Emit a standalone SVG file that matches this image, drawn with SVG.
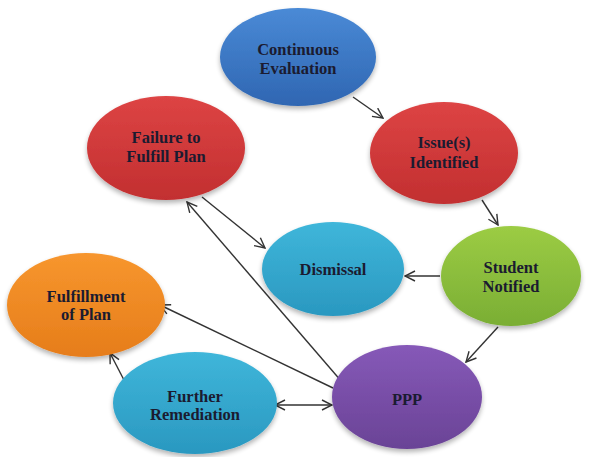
<svg xmlns="http://www.w3.org/2000/svg" width="597" height="457" viewBox="0 0 597 457">
<style>
text{font-family:'Liberation Serif','DejaVu Serif',serif;font-weight:bold;font-size:16.5px;fill:#1b1b30;text-anchor:middle}
.con{stroke:#333;stroke-width:1.4;fill:none}
</style>
<defs>
<marker id="arr" viewBox="0 0 12 12" refX="11" refY="6" markerWidth="12" markerHeight="12" markerUnits="userSpaceOnUse" orient="auto-start-reverse">
<path d="M1,1 L11,6 L1,11" fill="none" stroke="#333" stroke-width="1.4"/>
</marker>
<linearGradient id="gBlue" x1="0" y1="0" x2="0" y2="1"><stop offset="0" stop-color="#4a8ad6"/><stop offset="1" stop-color="#2f66b2"/></linearGradient>
<linearGradient id="gRed" x1="0" y1="0" x2="0" y2="1"><stop offset="0" stop-color="#dd4444"/><stop offset="1" stop-color="#c22f30"/></linearGradient>
<linearGradient id="gCyan" x1="0" y1="0" x2="0" y2="1"><stop offset="0" stop-color="#3fb6da"/><stop offset="1" stop-color="#2a98c0"/></linearGradient>
<linearGradient id="gGreen" x1="0" y1="0" x2="0" y2="1"><stop offset="0" stop-color="#9ccc44"/><stop offset="1" stop-color="#7aae34"/></linearGradient>
<linearGradient id="gOrange" x1="0" y1="0" x2="0" y2="1"><stop offset="0" stop-color="#f7962e"/><stop offset="1" stop-color="#e67d1a"/></linearGradient>
<linearGradient id="gPurple" x1="0" y1="0" x2="0" y2="1"><stop offset="0" stop-color="#8659b8"/><stop offset="1" stop-color="#6a4396"/></linearGradient>
<filter id="sh" x="-20%" y="-20%" width="140%" height="150%"><feGaussianBlur in="SourceAlpha" stdDeviation="2.5"/><feOffset dy="3"/><feComponentTransfer><feFuncA type="linear" slope="0.3"/></feComponentTransfer><feMerge><feMergeNode/><feMergeNode in="SourceGraphic"/></feMerge></filter>
</defs>
<rect width="597" height="457" fill="#fff"/>
<g id="connectors">
<line class="con" x1="353" y1="97" x2="383" y2="118" marker-end="url(#arr)"/>
<line class="con" x1="482" y1="200" x2="498" y2="225" marker-end="url(#arr)"/>
<line class="con" x1="440" y1="276" x2="405" y2="276" marker-end="url(#arr)"/>
<line class="con" x1="498" y1="327" x2="466" y2="362" marker-end="url(#arr)"/>
<line class="con" x1="275" y1="405" x2="332" y2="405" marker-start="url(#arr)" marker-end="url(#arr)"/>
<line class="con" x1="333" y1="388" x2="160" y2="305" marker-end="url(#arr)"/>
<line class="con" x1="342" y1="382" x2="187" y2="202" marker-end="url(#arr)"/>
<line class="con" x1="202" y1="197" x2="265" y2="248" marker-end="url(#arr)"/>
<line class="con" x1="125" y1="382" x2="110" y2="353" marker-end="url(#arr)"/>
</g>
<g id="continuous-evaluation"><ellipse cx="298" cy="57" rx="78" ry="49" fill="url(#gBlue)" filter="url(#sh)"/><text x="298" y="55">Continuous</text><text x="298" y="74">Evaluation</text></g>
<g id="issues-identified"><ellipse cx="444" cy="153" rx="74" ry="51" fill="url(#gRed)" filter="url(#sh)"/><text x="444" y="148">Issue(s)</text><text x="444" y="168">Identified</text></g>
<g id="failure-to-fulfill-plan"><ellipse cx="166" cy="148" rx="79" ry="52" fill="url(#gRed)" filter="url(#sh)"/><text x="166" y="143">Failure to</text><text x="166" y="162">Fulfill Plan</text></g>
<g id="dismissal"><ellipse cx="333" cy="269" rx="71" ry="47" fill="url(#gCyan)" filter="url(#sh)"/><text x="333" y="275">Dismissal</text></g>
<g id="student-notified"><ellipse cx="511" cy="276" rx="70" ry="50" fill="url(#gGreen)" filter="url(#sh)"/><text x="511" y="273">Student</text><text x="511" y="292">Notified</text></g>
<g id="fulfillment-of-plan"><ellipse cx="86" cy="305" rx="79" ry="52" fill="url(#gOrange)" filter="url(#sh)"/><text x="86" y="302">Fulfillment</text><text x="86" y="320">of Plan</text></g>
<g id="further-remediation"><ellipse cx="195" cy="403" rx="82" ry="51" fill="url(#gCyan)" filter="url(#sh)"/><text x="195" y="402">Further</text><text x="195" y="420">Remediation</text></g>
<g id="ppp"><ellipse cx="407" cy="397" rx="75" ry="52" fill="url(#gPurple)" filter="url(#sh)"/><text x="407" y="405">PPP</text></g>
</svg>
